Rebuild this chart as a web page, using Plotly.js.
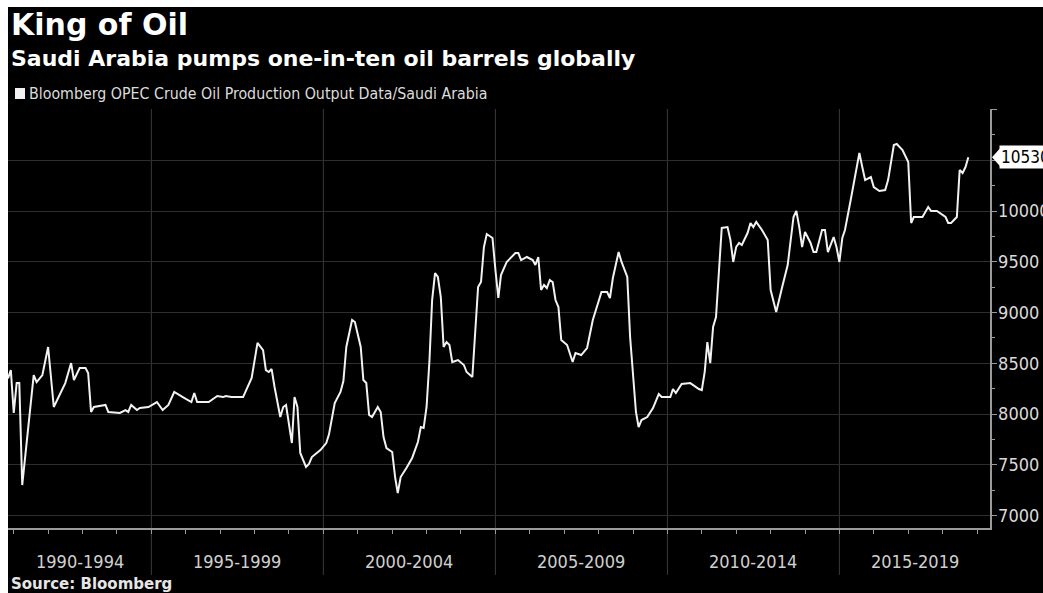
<!DOCTYPE html>
<html><head><meta charset="utf-8">
<script src="https://cdn.plot.ly/plotly-3.0.1.min.js"></script>
<style>
html,body{margin:0;padding:0;background:#ffffff;}
#chart{position:absolute;left:8px;top:7px;width:1035px;height:586px;}
</style></head><body><div id="chart"></div>
<script>
const months = ['1990-11','1990-12','1991-01','1991-02','1991-03','1991-04','1991-08','1991-09','1991-11','1992-01','1992-03','1992-07','1992-09','1992-10','1992-12','1993-02','1993-03','1993-04','1993-05','1993-09','1993-10','1994-02','1994-04','1994-05','1994-06','1994-08','1994-09','1994-12','1995-03','1995-05','1995-07','1995-09','1995-12','1996-03','1996-04','1996-05','1996-06','1996-09','1996-12','1997-02','1997-03','1997-05','1997-09','1997-12','1998-02','1998-04','1998-05','1998-06','1998-07','1998-08','1998-10','1998-11','1998-12','1999-02','1999-03','1999-04','1999-05','1999-07','1999-08','1999-09','1999-12','2000-02','2000-03','2000-05','2000-07','2000-08','2000-09','2000-11','2000-12','2001-02','2001-03','2001-04','2001-05','2001-06','2001-08','2001-09','2001-10','2001-11','2002-01','2002-02','2002-03','2002-04','2002-06','2002-08','2002-10','2002-11','2002-12','2003-01','2003-02','2003-03','2003-04','2003-05','2003-06','2003-07','2003-08','2003-09','2003-10','2003-12','2004-02','2004-03','2004-05','2004-06','2004-07','2004-08','2004-09','2004-10','2004-12','2005-01','2005-02','2005-03','2005-05','2005-08','2005-09','2005-10','2005-12','2006-02','2006-03','2006-04','2006-05','2006-06','2006-07','2006-08','2006-09','2006-10','2006-11','2006-12','2007-02','2007-04','2007-05','2007-07','2007-09','2007-11','2008-01','2008-02','2008-04','2008-05','2008-06','2008-08','2008-09','2008-11','2008-12','2009-02','2009-03','2009-04','2009-06','2009-07','2009-08','2009-10','2009-11','2010-02','2010-03','2010-04','2010-06','2010-09','2010-12','2011-01','2011-02','2011-03','2011-04','2011-05','2011-06','2011-07','2011-08','2011-10','2011-11','2011-12','2012-01','2012-02','2012-03','2012-05','2012-06','2012-07','2012-08','2012-10','2012-12','2013-01','2013-03','2013-05','2013-07','2013-09','2013-10','2013-11','2013-12','2014-01','2014-03','2014-04','2014-05','2014-07','2014-08','2014-09','2014-11','2014-12','2015-01','2015-02','2015-03','2015-05','2015-06','2015-08','2015-09','2015-10','2015-12','2016-01','2016-03','2016-05','2016-06','2016-08','2016-09','2016-11','2017-01','2017-02','2017-03','2017-06','2017-08','2017-09','2017-11','2018-01','2018-02','2018-03','2018-04','2018-06','2018-07','2018-08','2018-09','2018-10'];
const production = [8350,8433,8010,8305,8305,7300,8384,8315,8384,8660,8069,8305,8502,8335,8453,8453,8404,8020,8069,8089,8020,8010,8039,8020,8089,8039,8059,8069,8118,8039,8089,8217,8167,8118,8207,8118,8118,8118,8177,8167,8177,8167,8167,8355,8700,8630,8433,8414,8443,8266,7970,8069,8089,7714,8167,8069,7616,7478,7507,7576,7645,7714,7800,8108,8217,8325,8660,8926,8906,8660,8335,8305,7990,7970,8069,8020,7773,7665,7626,7379,7222,7379,7468,7567,7724,7872,7862,8069,8532,9123,9389,9350,9153,8660,8709,8680,8512,8532,8483,8414,8365,8857,9251,9300,9645,9773,9734,9419,9143,9369,9498,9586,9586,9517,9547,9517,9468,9547,9222,9271,9241,9320,9300,9123,9054,8729,8680,8512,8601,8581,8650,8926,9094,9202,9202,9143,9340,9596,9498,9350,8759,8020,7872,7941,7970,8010,8059,8197,8167,8167,8246,8207,8296,8305,8246,8236,8414,8709,8502,8857,8956,9389,9833,9842,9714,9498,9645,9685,9665,9783,9882,9842,9892,9813,9714,9222,9005,9241,9468,9941,10000,9842,9645,9793,9685,9596,9596,9813,9813,9596,9744,9645,9498,9734,9813,10108,10276,10571,10433,10305,10335,10236,10197,10207,10305,10650,10660,10601,10483,9882,9941,9941,10039,10000,10000,9961,9941,9882,9882,9941,10404,10374,10433,10530];

const periodStarts = ['1990-01-01','1995-01-01','2000-01-01','2005-01-01','2010-01-01','2015-01-01'];
const periodEnds   = ['1995-01-01','2000-01-01','2005-01-01','2010-01-01','2015-01-01','2020-01-01'];
const periodLabels = ['1990-1994','1995-1999','2000-2004','2005-2009','2010-2014','2015-2019'];
const yTickVals = [7000,7500,8000,8500,9000,9500,10000,10500,11000];
const yTickText = ['7000','7500','8000','8500','9000','9500','10000','',''];
const xRange = ['1990-11-01','2019-05-19'];
const yRange = [6877, 11005];

const titleText = 'King of Oil';
const subtitleText = 'Saudi Arabia pumps one-in-ten oil barrels globally';
const legendText = 'Bloomberg OPEC Crude Oil Production Output Data/Saudi Arabia';
const sourceText = 'Source: Bloomberg';

const COND = '"DejaVu Sans Condensed", "DejaVu Sans", sans-serif';
const BOLD = '"DejaVu Sans", sans-serif';
const axisGray = '#9a9a9a';

function toPlotDate(ms){
  const s = new Date(ms).toISOString();
  return s.slice(0,10) + ' ' + s.slice(11,19);
}
const r0 = Date.parse(xRange[0]), r1 = Date.parse(xRange[1]);

const shapes = [];
const annotations = [];

// period separators (extend below the axis)
periodStarts.forEach((d, i) => {
  const t = Date.parse(d);
  if (t > r0 && t < r1) {
    shapes.push({type:'line', xref:'x', yref:'paper', x0:d, x1:d, y0:-0.112, y1:1,
      line:{color:'#3a3a3a', width:1}, layer:'below'});
  }
  const a = Math.max(Date.parse(d), r0), b = Math.min(Date.parse(periodEnds[i]), r1);
  annotations.push({xref:'x', yref:'paper', x:toPlotDate((a+b)/2), y:-0.081,
    text:periodLabels[i], showarrow:false, xanchor:'center', yanchor:'middle',
    font:{family:COND, size:18, color:'#cfcfcf'}});
});

// titles
annotations.push({xref:'paper', yref:'paper', x:0.001, y:1.202, xanchor:'left', yanchor:'middle',
  text:'<b>'+titleText+'</b>', showarrow:false, font:{family:BOLD, size:30, color:'#ffffff'}});
annotations.push({xref:'paper', yref:'paper', x:0.001, y:1.121, xanchor:'left', yanchor:'middle',
  text:'<b>'+subtitleText+'</b>', showarrow:false, font:{family:BOLD, size:22, color:'#ffffff'}});
annotations.push({xref:'paper', yref:'paper', x:0.0195, y:1.036, xanchor:'left', yanchor:'middle',
  text:legendText, showarrow:false, font:{family:COND, size:15.8, color:'#dcdcdc'}});
annotations.push({xref:'paper', yref:'paper', x:0.001, y:-0.134, xanchor:'left', yanchor:'middle',
  text:'<b>'+sourceText+'</b>', showarrow:false, font:{family:BOLD, size:15, color:'#e6e6e6'}});

// legend square
shapes.push({type:'rect', xref:'paper', yref:'paper', xsizemode:'pixel', ysizemode:'pixel',
  xanchor:0, yanchor:1.037, x0:7, x1:17, y0:-5.5, y1:5.5,
  fillcolor:'#f2f2f2', line:{width:0}});

// last value tab
const lastVal = production[production.length-1];
shapes.push({type:'path', xref:'paper', yref:'y', xsizemode:'pixel', ysizemode:'pixel',
  xanchor:1, yanchor:lastVal, path:'M 2 0 L 11 10 L 11 -10 Z',
  fillcolor:'#ffffff', line:{width:0}});
annotations.push({xref:'paper', yref:'y', x:1, y:lastVal, xanchor:'left', yanchor:'middle',
  xshift:9, text:String(lastVal), showarrow:false, bgcolor:'#ffffff', borderpad:1,
  font:{family:COND, size:17, color:'#000000'}});

const trace = {x:months, y:production, type:'scatter', mode:'lines',
  line:{color:'#f2f2f2', width:2}, hoverinfo:'skip', showlegend:false};

const layout = {
  width:1035, height:586,
  margin:{l:0, r:53, t:102, b:65},
  paper_bgcolor:'#000000', plot_bgcolor:'#000000',
  showlegend:false,
  xaxis:{type:'date', range:xRange, showgrid:false, zeroline:false,
    showline:true, linecolor:axisGray, linewidth:1.5,
    tickmode:'linear', tick0:'1990-01-01', dtick:'M12',
    ticks:'outside', ticklen:4, tickcolor:axisGray, showticklabels:false, fixedrange:true},
  yaxis:{side:'right', range:yRange, tickmode:'array', tickvals:yTickVals, ticktext:yTickText,
    showgrid:true, gridcolor:'#2e2e2e', gridwidth:1, zeroline:false,
    showline:true, linecolor:axisGray, linewidth:1.5,
    ticks:'outside', ticklen:5, tickcolor:axisGray, ticklabelstandoff:-2,
    minor:{tickmode:'linear', tick0:0, dtick:250, ticks:'outside', ticklen:3, tickcolor:axisGray, showgrid:false},
    tickfont:{family:COND, size:18, color:'#dadada'}, fixedrange:true},
  shapes:shapes,
  annotations:annotations
};

Plotly.newPlot('chart', [trace], layout, {displayModeBar:false, staticPlot:true});
</script></body></html>
